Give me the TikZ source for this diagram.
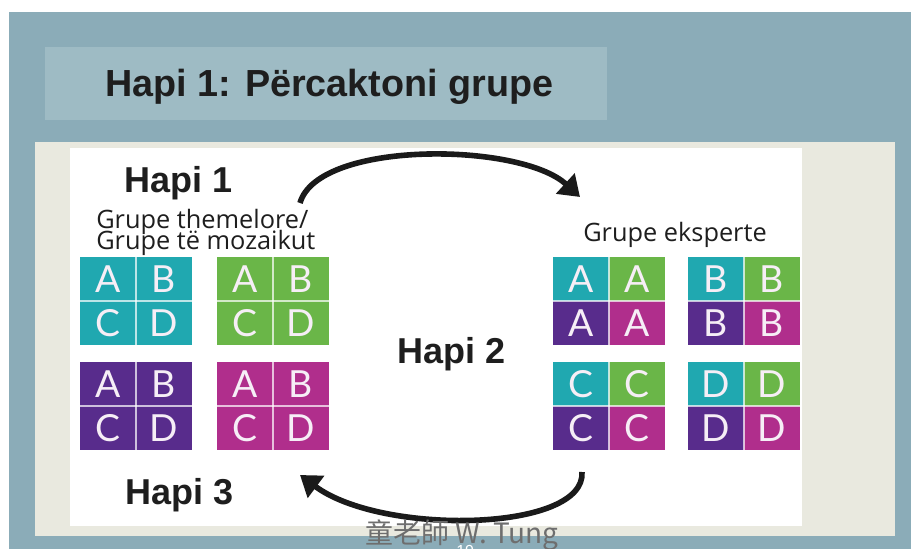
\documentclass[tikz,border=0pt]{standalone}
\usepackage{fontspec}
\setmainfont{Liberation Sans}
\newfontfamily\grplabelfont{Open Sans}
\newfontfamily\letterfont{Lato}
\newfontfamily\cjkfont{Noto Sans CJK TC}
\usetikzlibrary{arrows.meta}
\definecolor{bgblue}{RGB}{139,172,184}
\definecolor{titleblue}{RGB}{158,187,196}
\definecolor{cream}{RGB}{233,233,223}
\definecolor{textdark}{RGB}{30,30,30}
\definecolor{arrowblack}{RGB}{26,26,26}
\definecolor{teal}{RGB}{32,168,176}
\definecolor{grn}{RGB}{106,182,72}
\definecolor{purp}{RGB}{88,44,140}
\definecolor{mag}{RGB}{176,46,140}
\definecolor{lettercol}{RGB}{246,238,246}
\definecolor{wmgray}{RGB}{110,110,110}
\tikzset{
  cellbox/.style={minimum width=41.6pt, minimum height=33pt, inner sep=0pt, text=lettercol,
    font=\letterfont\fontsize{28}{28}\selectfont},
  divider/.style={draw=white, draw opacity=0.7, line width=1.5pt},
  hapi/.style={anchor=base west, inner sep=0pt, text=textdark, font=\fontsize{27}{27}\selectfont\bfseries},
  grptext/.style={anchor=base west, inner sep=0pt, text=textdark, font=\grplabelfont\fontsize{19}{19}\selectfont},
  curvearrow/.style={line width=4.2pt, draw=arrowblack, -{Triangle[length=15pt,width=20pt]}}
}
\newcommand\jcell[5]{\node[cellbox, fill=#4] (#1) at (#2,#3) {#5};}
\newcommand\homegrp[4]{%
  \jcell{#1a}{#2+28}{#3+22}{#4}{A}
  \jcell{#1b}{#2+84}{#3+22}{#4}{B}
  \jcell{#1c}{#2+28}{#3+66}{#4}{C}
  \jcell{#1d}{#2+84}{#3+66}{#4}{D}
  \draw[divider] (#1a.north east) -- (#1c.south east);
  \draw[divider] (#1a.south west) -- (#1b.south east);
}
\newcommand\expgrp[4]{%
  \jcell{#1a}{#2+28}{#3+22}{teal}{#4}
  \jcell{#1b}{#2+84}{#3+22}{grn}{#4}
  \jcell{#1c}{#2+28}{#3+66}{purp}{#4}
  \jcell{#1d}{#2+84}{#3+66}{mag}{#4}
  \draw[divider] (#1a.north east) -- (#1c.south east);
  \draw[divider] (#1a.south west) -- (#1b.south east);
}
\begin{document}
\begin{tikzpicture}[x=0.75pt,y=-0.75pt]
\useasboundingbox (0,0) rectangle (911,549);
\fill[white] (0,0) rectangle (911,549);
\fill[bgblue] (9,12) rectangle (911,549);
\fill[titleblue] (45,47) rectangle (607,120);
\node[anchor=base west, inner sep=0pt, text=textdark, font=\fontsize{28.3}{28.3}\selectfont\bfseries] (title) at (105,97) {Hapi 1: Përcaktoni grupe};
% panel
\fill[cream] (35,142) rectangle (895,536);
\fill[white] (70,148) rectangle (802,526);
% labels
\node[hapi] (hapi1) at (124,193) {Hapi 1};
\node[hapi] (hapi2) at (397,363) {Hapi 2};
\node[hapi] (hapi3) at (125,504) {Hapi 3};
\node[grptext] (home1) at (96,229) {Grupe themelore/};
\node[grptext] (home2) at (96,250) {Grupe të mozaikut};
\node[grptext] (expert) at (583,242) {Grupe eksperte};
% home groups
\homegrp{h1}{80}{257}{teal}
\homegrp{h2}{217}{257}{grn}
\homegrp{h3}{80}{362}{purp}
\homegrp{h4}{217}{362}{mag}
% expert groups
\expgrp{e1}{553}{257}{A}
\expgrp{e2}{688}{257}{B}
\expgrp{e3}{553}{362}{C}
\expgrp{e4}{688}{362}{D}
% arrows
\coordinate (topstart) at (300,203);
\coordinate (topend) at (580,197);
\coordinate (botstart) at (582,472);
\coordinate (botend) at (300,475);
\draw[curvearrow] (topstart) .. controls (318,140) and (520,142) .. (topend);
\draw[curvearrow] (botstart) .. controls (586,532) and (382,536) .. (botend);
% watermark
\node[anchor=base west, inner sep=0pt, text=wmgray, font=\cjkfont\fontsize{21}{21}\selectfont] (wm) at (365,543) {童老師 W. Tung};
\node[anchor=base west, inner sep=0pt, text=white, font=\fontsize{12}{12}\selectfont] (pagenum) at (456,556) {19};
\end{tikzpicture}
\end{document}
